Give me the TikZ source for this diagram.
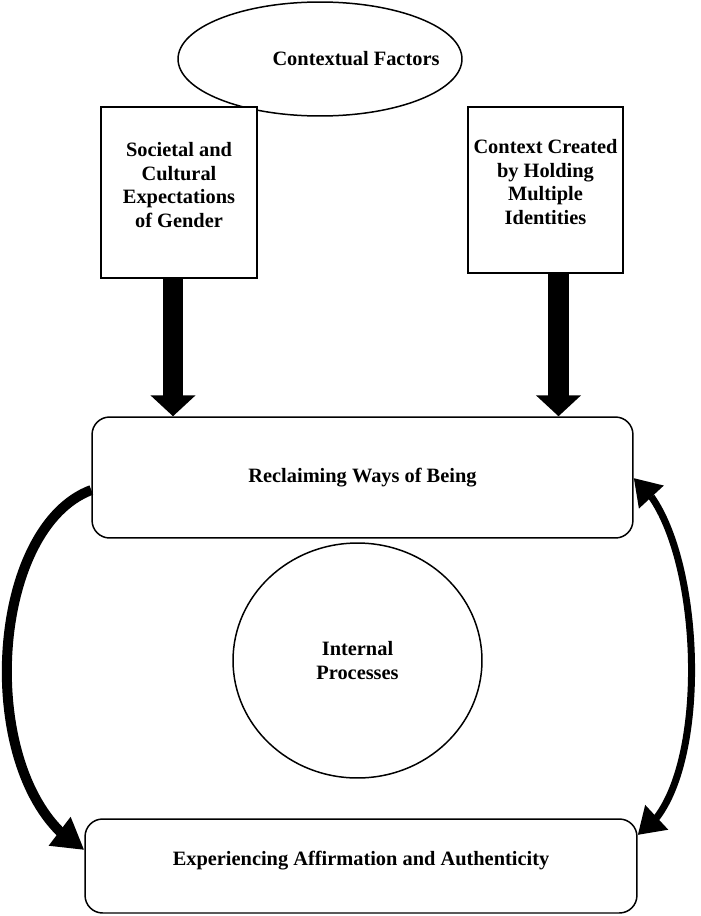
\documentclass[tikz,border=0pt]{standalone}
\usepackage{fontspec}
\setmainfont{Liberation Serif}
\usetikzlibrary{shapes.geometric,arrows.meta,bending}
\begin{document}
\begin{tikzpicture}[x=0.02cm,y=-0.02cm,
  every node/.style={font=\fontsize{11.6}{13.6}\selectfont\bfseries, align=center},
  boxnode/.style={draw, fill=white, line width=0.85pt, rectangle, inner sep=0pt},
  roundbox/.style={draw, line width=0.85pt, rectangle, rounded corners=10pt, inner sep=0pt},
  bigarrow/.style={line width=0.41cm, -{Triangle[length=0.42cm,width=0.88cm]}},
  curvearrow/.style={line width=0.2cm, -{Triangle[length=0.62cm,width=0.68cm]}},
  dblarrow/.style={line width=0.14cm, {Triangle[length=0.52cm,width=0.64cm]}-{Triangle[length=0.52cm,width=0.64cm]}}
]
\useasboundingbox (0,0) rectangle (700,916);
\fill[white] (0,0) rectangle (700,916);

\node[draw, line width=0.85pt, ellipse, minimum width=5.68cm, minimum height=2.28cm, inner sep=0pt] (ctx) at (320,59) {};
\node (ctxt) at (356,59) {Contextual Factors};

\node[boxnode, minimum width=3.12cm, minimum height=3.42cm,
  label={[yshift=0.15cm]center:{Societal and\\Cultural\\Expectations\\of Gender}}] (soc) at (179,192.5) {};
\node[boxnode, minimum width=3.1cm, minimum height=3.32cm,
  label={[yshift=0.16cm]center:{Context Created\\by Holding\\Multiple\\Identities}}] (ctc) at (545.5,190) {};

\node[roundbox, minimum width=10.82cm, minimum height=2.42cm] (rec) at (362.5,477.5) {Reclaiming Ways of Being};
\node[draw, line width=0.85pt, ellipse, minimum width=4.98cm, minimum height=4.7cm, inner sep=0pt] (int) at (357.5,660.5) {Internal\\Processes};
\node[roundbox, minimum width=11.04cm, minimum height=1.88cm,
  label={[yshift=0.1cm]center:Experiencing Affirmation and Authenticity}] (exp) at (361,866) {};

\draw[bigarrow] (soc.south -| 173,0) -- (rec.north -| 173,0);
\draw[bigarrow] (ctc.south -| 558.5,0) -- (rec.north -| 558.5,0);

\draw[curvearrow] (rec.west |- 0,490) .. controls (-15,530) and (-25,790) .. (exp.west |- 0,850);
\draw[dblarrow] (rec.east |- 0,478) .. controls (705,530) and (715,790) .. (exp.east |- 0,835);
\end{tikzpicture}
\end{document}
